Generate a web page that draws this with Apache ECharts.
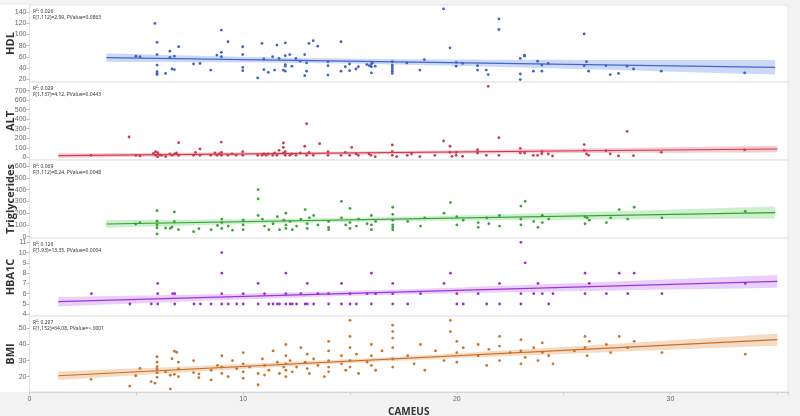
<!DOCTYPE html>
<html>
<head>
<meta charset="utf-8">
<script src="https://cdn.jsdelivr.net/npm/echarts@6/dist/echarts.min.js"></script>
<style>
  html, body { margin: 0; padding: 0; background: #f3f3f3; }
  #chart { width: 800px; height: 416px; }
</style>
</head>
<body>
<div id="chart"></div>
<script>
// x axis (shared)
const xTickLabels = [0, 10, 20, 30];

// panel names / y ticks
const panelNames = ['HDL', 'ALT', 'Triglycerides', 'HBA1C', 'BMI'];
const hdlTicks = [20, 40, 60, 80, 100, 120, 140];
const altTicks = [0, 100, 200, 300, 400, 500, 600, 700];
const trigTicks = [0, 100, 200, 300, 400, 500, 600];
const hba1cTicks = [4, 5, 6, 7, 8, 9, 10, 11];
const bmiTicks = [20, 30, 40, 50];

const r2Labels = ['R\u00b2: 0.026', 'R\u00b2: 0.029', 'R\u00b2: 0.069', 'R\u00b2: 0.126', 'R\u00b2: 0.297'];
const fLabels = [
  'F(1,112)=2.99, PValue=0.0863',
  'F(1,137)=4.12, PValue=0.0443',
  'F(1,112)=8.24, PValue=0.0048',
  'F(1,93)=13.35, PValue=0.0004',
  'F(1,152)=64.08, PValue=<.0001'
];

// scatter values [CAMEUS, value]
const hdlPts = [
  [4.98,61],[5.17,60],[5.87,120],[5.97,86],[5.97,64],[5.97,45],[5.97,33],[5.97,30],[5.97,28],
  [6.37,30],[6.57,70],[6.57,59],[6.78,61],[6.67,38],[6.78,37],[6.98,78],[7.68,47],[7.98,48],
  [8.48,36],[8.77,63],[8.98,68],[8.98,60],[8.98,108],[9.29,87],[9.98,78],[9.98,64],[9.98,41],[9.98,35],
  [10.68,22],[10.88,84],[10.97,56],[10.97,37],[11.18,32],[11.38,60],[11.47,36],[11.58,81],[11.68,57],
  [11.88,36],[11.97,34],[11.97,85],[11.97,62],[11.97,46],[11.97,43],[12.18,64],[12.28,43],[12.47,57],
  [12.67,52],[12.88,64],[12.97,49],[12.88,26],[12.97,34],[13.08,84],[13.28,89],[13.49,79],
  [13.97,51],[13.97,44],[13.97,27],[14.58,87],[14.58,34],[14.78,42],[14.98,47],[14.98,35],[15.28,38],
  [15.39,42],[15.79,46],[15.9,44],[16.0,47],[16.05,49],[16.0,42],[16.0,31],[16.18,43],
  [16.98,51],[16.98,45],[16.98,42],[16.98,38],[16.98,34],[16.98,30],[17.66,49],[18.27,36],[18.48,55],
  [19.38,146],[19.68,76],[19.97,50],[19.97,43],[20.27,48],[20.97,44],[20.97,36],[21.38,36],[21.47,28],
  [21.97,128],[21.97,109],[22.97,57],[22.97,29],[22.97,19],[23.17,63],[23.17,61],[23.58,34],[23.78,52],
  [23.98,45],[23.98,34],[24.28,48],[25.96,101],[25.96,44],[26.07,51],[26.17,34],[26.98,44],[27.18,28],
  [27.57,30],[27.97,43],[28.27,38],[29.57,34],[33.47,31]
];
const altPts = [
  [2.88,21],[4.66,213],[4.98,21],[5.17,14],[5.8,42],[5.9,59],[5.9,21],[6.0,48],[6.0,5],[6.1,25],
  [6.18,21],[6.37,7],[6.57,35],[6.67,21],[6.78,35],[6.88,45],[6.98,21],[6.98,153],[7.68,21],[7.77,52],
  [7.98,87],[7.98,21],[8.48,21],[8.68,45],[8.77,21],[8.88,35],[8.98,52],[8.98,21],[8.98,160],
  [9.29,21],[9.48,35],[9.67,21],[9.98,59],[9.98,21],[10.68,21],[10.88,21],[10.97,35],[11.08,21],
  [11.18,35],[11.38,21],[11.47,45],[11.58,21],[11.68,73],[11.88,45],[11.88,150],[11.88,104],[11.97,21],
  [11.97,59],[12.18,21],[12.28,35],[12.47,21],[12.67,45],[12.88,116],[12.97,21],[12.97,352],[13.08,52],
  [13.28,21],[13.58,143],[13.97,59],[13.97,21],[14.58,21],[14.78,52],[14.98,21],[15.08,104],[15.28,35],
  [15.39,21],[15.89,35],[15.98,21],[16.18,7],[16.98,129],[16.98,59],[16.98,21],[17.18,7],[17.68,21],
  [17.88,35],[18.27,7],[18.97,21],[19.38,171],[19.68,116],[19.68,52],[19.77,10],[19.97,52],[19.97,21],
  [20.27,10],[20.97,80],[20.97,45],[21.38,21],[21.47,745],[21.97,205],[21.97,21],[22.97,94],[22.97,45],
  [23.17,45],[23.58,21],[23.78,21],[23.98,59],[23.98,38],[24.28,35],[24.48,14],[25.96,133],[25.96,73],
  [26.07,35],[26.17,21],[26.98,70],[27.18,35],[27.57,14],[27.97,273],[28.27,17],[29.57,52],[33.47,77]
];
const trigPts = [
  [4.97,108],[5.17,119],[5.97,221],[5.97,131],[5.97,99],[5.97,76],[5.97,23],[6.37,74],[6.59,71],
  [6.67,82],[6.78,127],[6.78,210],[6.97,60],[7.68,43],[7.93,68],
  [8.5,60],[8.8,95],[9.0,150],[9.0,120],[9.0,70],[9.3,90],[9.5,55],[10.0,100],[10.0,140],[10.0,60],
  [10.7,400],[10.7,320],[10.7,180],[10.9,150],[11.0,90],[11.2,60],[11.4,110],[11.6,170],[11.7,60],
  [11.9,140],[12.0,200],[12.0,100],[12.0,70],[12.2,130],[12.3,60],[12.5,90],[12.7,150],[12.9,230],
  [13.0,110],[13.0,70],[13.1,160],[13.3,180],[13.5,100],[14.0,130],[14.0,80],[14.0,60],[14.6,300],
  [14.6,160],[14.8,100],[15.0,240],[15.0,120],[15.0,70],[15.3,90],[15.4,150],[15.8,110],[16.0,180],
  [16.0,100],[16.0,60],[16.2,130],[17.0,250],[17.0,190],[17.0,140],[17.0,100],[17.0,80],[17.0,60],
  [17.7,130],[18.3,90],[18.5,160],[19.4,200],[19.7,290],[20.0,170],[20.0,100],[20.3,140],[21.0,120],
  [21.0,80],[21.4,160],[21.5,110],[22.0,180],[22.0,90],[23.0,260],[23.0,150],[23.0,100],[23.2,300],
  [23.6,130],[23.8,80],[24.0,180],[24.0,120],[24.3,150],[26.0,170],[26.0,110],[26.1,160],[26.2,140],
  [27.0,120],[27.2,160],[27.6,230],[28.0,150],[28.3,250],[29.6,160],[33.5,215]
];
const hba1cPts = [
  [2.9,6],[4.7,5],[5.7,5],[6.0,7],[6.0,6],[6.0,5],[6.7,6],[6.8,6],[6.8,5],[7.7,5],
  [8.0,5],[8.5,5],[9.0,10],[9.0,8],[9.0,6],[9.0,5],[9.3,5],[9.7,5],[10.0,6],[10.0,5],[10.7,7],[10.7,5],
  [11.0,6],[11.2,5],[11.4,5],[11.6,5],[11.7,5],[12.0,8],[12.0,6],[12.0,5],[12.2,5],[12.3,5],[12.5,5],
  [12.7,6],[12.9,5],[13.0,7],[13.0,5],[13.3,5],[13.5,6],[14.0,5],[14.0,6],[14.6,7],[14.6,5],[15.0,6],
  [15.0,5],[15.3,5],[15.8,6],[16.0,5],[16.0,8],[16.2,6],[17.0,5],[17.0,6],[17.0,7],[17.7,5],[18.3,6],
  [19.4,7],[19.7,8],[20.0,6],[20.0,5],[20.3,5],[21.0,6],[21.4,5],[22.0,7],[22.0,5],[23.0,11],[23.0,6],
  [23.0,5],[23.2,9],[23.6,6],[23.8,7],[24.0,6],[24.3,5],[24.5,6],[26.0,8],[26.0,6],[26.2,7],[27.0,6],
  [27.6,8],[28.0,6],[28.3,8],[29.6,6],[33.5,7]
];
const bmiPts = [
  [2.88,18.4],[4.69,14.2],[4.97,20.6],[5.17,25.2],[5.69,17],[5.87,16],[5.97,32.4],[5.97,29],[5.97,26.2],
  [5.97,24.8],[5.97,22.5],[5.97,19.6],[6.37,23],[6.59,20.9],[6.59,12.4],[6.67,31.2],[6.78,35.8],
  [6.89,35.2],[6.97,29],[6.97,24.8],[6.97,20],[6.78,21.5],[7.68,30],[7.68,22.5],[7.93,21.7],[7.93,19.4],
  [8.5,24],[8.5,18],[8.8,27],[9.0,33],[9.0,26],[9.0,22],[9.3,20],[9.5,30],[9.7,25],[10.0,35],[10.0,28],
  [10.0,23],[10.0,19],[10.3,26],[10.7,15],[10.7,22],[10.9,31],[11.0,27],[11.0,21],[11.2,24],[11.4,36],
  [11.6,29],[11.7,22],[11.9,26],[12.0,40],[12.0,33],[12.0,28],[12.0,24],[12.0,20],[12.2,30],[12.3,23],
  [12.5,26],[12.7,38],[12.9,29],[13.0,34],[13.0,25],[13.1,22],[13.3,31],[13.5,27],[13.8,20],[14.0,42],
  [14.0,36],[14.0,30],[14.0,26],[14.0,23],[14.6,33],[14.6,28],[14.8,24],[15.0,55],[15.0,45],[15.0,38],
  [15.0,30],[15.0,26],[15.3,34],[15.4,22],[15.8,29],[16.0,40],[16.0,33],[16.0,27],[16.2,24],[16.5,36],
  [17.0,52],[17.0,48],[17.0,44],[17.0,38],[17.0,31],[17.0,26],[17.7,33],[18.0,28],[18.3,40],[18.5,24],
  [19.0,36],[19.4,30],[19.7,55],[19.7,48],[20.0,42],[20.0,35],[20.0,29],[20.3,38],[21.0,40],[21.0,33],
  [21.4,27],[21.5,37],[22.0,45],[22.0,39],[22.0,30],[22.5,35],[23.0,43],[23.0,36],[23.0,28],[23.2,32],
  [23.6,38],[23.8,30],[24.0,41],[24.0,35],[24.3,33],[24.5,28],[25.5,36],[26.0,45],[26.0,38],[26.1,33],
  [26.2,42],[27.0,40],[27.2,35],[27.6,45],[28.0,38],[28.3,42],[29.6,35],[33.5,34]
];

// fitted lines [x0, y0, x1, y1] and bands [xMean, halfMin, halfAtEnd]
const hdlFit = [3.6, 58.4, 34.9, 41];
const altFit = [1.35, 17, 35, 87];
const trigFit = [3.6, 108, 34.9, 205];
const hba1cFit = [1.35, 5.22, 35, 7.2];
const bmiFit = [1.35, 20.6, 35, 43];
const hdlBand = [14, 4.5, 13.1];
const altBand = [14, 16, 35];
const trigBand = [15, 17, 51];
const hba1cBand = [15, 0.24, 0.63];
const bmiBand = [15, 1.25, 3.7];

const allPts = [hdlPts, altPts, trigPts, hba1cPts, bmiPts];
const allFits = [hdlFit, altFit, trigFit, hba1cFit, bmiFit];
const allBands = [hdlBand, altBand, trigBand, hba1cBand, bmiBand];
const allTicks = [hdlTicks, altTicks, trigTicks, hba1cTicks, bmiTicks];

const yMin = [14.6, -28.3, -11, 3.83, 10.5];
const yMax = [153.1, 790, 651, 11.42, 57.7];
const gridTop = [5, 82, 160, 238, 316];
const gridH = [77, 78, 78, 78, 76];

const ptColor = ['#3f63c6', '#cf3a4e', '#36a436', '#9a2fd6', '#c8742a'];
const lineColor = ['#4465c8', '#d03a4c', '#33a033', '#a033dd', '#c96d24'];
const bandColor = ['rgba(110,145,230,0.35)', 'rgba(230,110,130,0.35)', 'rgba(110,210,110,0.35)', 'rgba(190,120,240,0.35)', 'rgba(230,160,100,0.38)'];

function bandData(fit, band) {
  const [x0, y0, x1, y1] = fit;
  const [xm, hmin, hend] = band;
  const c = (hend * hend - hmin * hmin) / ((x1 - xm) * (x1 - xm));
  const out = [];
  for (let k = 0; k <= 40; k++) {
    const x = x0 + (x1 - x0) * k / 40;
    const y = y0 + (y1 - y0) * (x - x0) / (x1 - x0);
    const h = Math.sqrt(hmin * hmin + c * (x - xm) * (x - xm));
    out.push([x, y - h, y + h]);
  }
  return out;
}

const grids = [], xAxes = [], yAxes = [], series = [], graphics = [];
graphics.push({ type: 'rect', z: -10, shape: { x: 0, y: 5, width: 788, height: 387 }, style: { fill: '#ffffff' } });

for (let i = 0; i < 5; i++) {
  const last = i === 4;
  grids.push({ left: 29.5, right: 12, top: gridTop[i], height: gridH[i], containLabel: false, outerBoundsMode: 'none',
    show: true, backgroundColor: '#fff', borderColor: '#e2e2e2', borderWidth: 1 });
  xAxes.push({
    type: 'value', gridIndex: i, min: 0, max: 35.5, interval: 5,
    axisLine: { show: last, lineStyle: { color: '#d6d6d6' } },
    axisTick: { show: last, length: 3, lineStyle: { color: '#cfcfcf' } },
    axisLabel: { show: last, fontSize: 7, color: '#666', margin: 4,
      formatter: v => xTickLabels.indexOf(v) >= 0 ? String(v) : '' },
    splitLine: { show: false },
    name: last ? 'CAMEUS' : '', nameLocation: 'middle', nameGap: 15, nameMoveOverlap: false,
    nameTextStyle: { fontSize: 10, fontWeight: 'bold', color: '#333', fontFamily: 'Open Sans' }
  });
  yAxes.push({
    type: 'value', gridIndex: i, min: yMin[i], max: yMax[i],
    axisLine: { show: false },
    axisTick: { show: true, length: 3, lineStyle: { color: '#bbb' }, customValues: allTicks[i] },
    axisLabel: { fontSize: 7, color: '#666', margin: 3, customValues: allTicks[i] },
    splitLine: { show: false },
    name: panelNames[i], nameLocation: 'middle', nameRotate: 90, nameGap: 13, nameMoveOverlap: false,
    nameTextStyle: { fontSize: 11, fontWeight: 'bold', color: '#333', fontFamily: 'Open Sans' }
  });
  const bd = bandData(allFits[i], allBands[i]);
  series.push({
    type: 'custom', xAxisIndex: i, yAxisIndex: i, data: bd, silent: true, z: 1,
    encode: { x: 0, y: [1, 2] },
    renderItem: (params, api) => {
      if (params.dataIndex !== 0) return;
      const up = bd.map(p => api.coord([p[0], p[2]]));
      const lo = bd.map(p => api.coord([p[0], p[1]])).reverse();
      return { type: 'polygon', shape: { points: up.concat(lo) }, style: { fill: bandColor[i] } };
    }
  });
  const f = allFits[i];
  series.push({
    type: 'line', xAxisIndex: i, yAxisIndex: i, data: [[f[0], f[1]], [f[2], f[3]]],
    showSymbol: false, silent: true, z: 3, lineStyle: { color: lineColor[i], width: 1.2 }
  });
  series.push({
    type: 'scatter', xAxisIndex: i, yAxisIndex: i, data: allPts[i], symbolSize: 2.8, z: 4,
    itemStyle: { color: ptColor[i], opacity: 1 }
  });
  graphics.push({ type: 'text', left: 33, top: gridTop[i] + 4.5, style: { text: r2Labels[i], fontSize: 5, fill: '#333', fontFamily: 'Noto Sans' } });
  graphics.push({ type: 'text', left: 33, top: gridTop[i] + 10.5, style: { text: fLabels[i], fontSize: 5, fill: '#333', fontFamily: 'Noto Sans' } });
}

const chart = echarts.init(document.getElementById('chart'));
chart.setOption({
  backgroundColor: '#f3f3f3',
  animation: false,
  grid: grids,
  xAxis: xAxes,
  yAxis: yAxes,
  graphic: graphics,
  series: series
});
</script>
</body>
</html>
